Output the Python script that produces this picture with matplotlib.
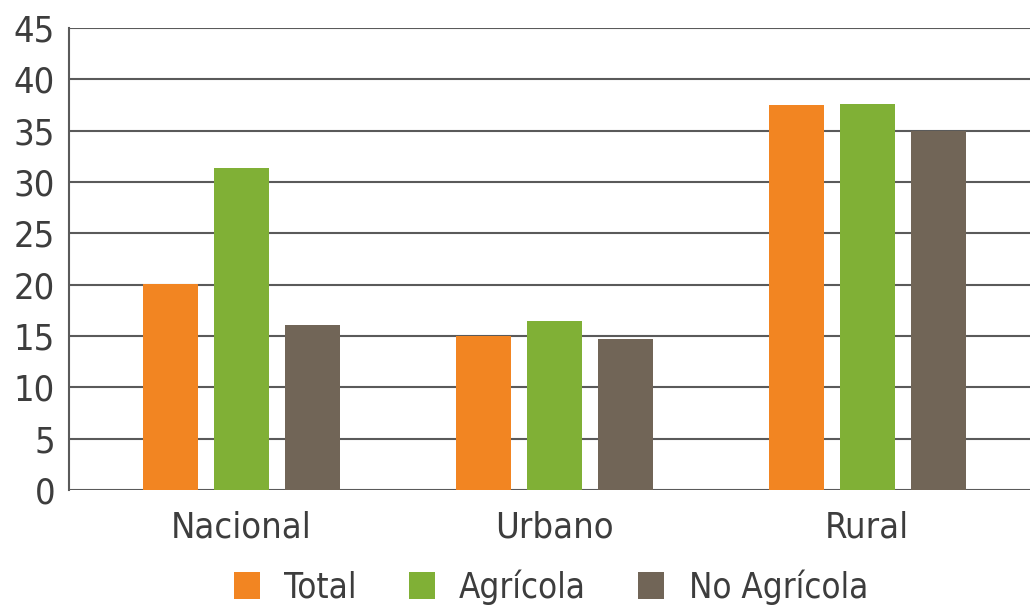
import matplotlib
matplotlib.use("Agg")
import matplotlib.pyplot as plt
from matplotlib import font_manager as fm
import numpy as np

categories = ["Nacional", "Urbano", "Rural"]
series_names = ["Total", "Agrícola", "No Agrícola"]
total = [20.1, 15.0, 37.5]
agricola = [31.4, 16.5, 37.6]
no_agricola = [16.1, 14.7, 35.0]
yticks = [0, 5, 10, 15, 20, 25, 30, 35, 40, 45]

colors = ["#F28522", "#80B036", "#716557"]
text_color = "#3d3d3d"


def _wnum(w):
    if isinstance(w, (int, float)):
        return w
    return fm.weight_dict.get(str(w), 400)


# look for a condensed, regular-weight, upright font
cands = []
for f in fm.fontManager.ttflist:
    is_cond = ('Narrow' in f.name or 'Condensed' in f.name or
               str(f.stretch) in ('condensed', 'semi-condensed') or
               (isinstance(f.stretch, int) and f.stretch < 500))
    if is_cond and f.style == 'normal' and _wnum(f.weight) <= 400 and 'Mono' not in f.name and 'Serif' not in f.name:
        cands.append(f)
cands.sort(key=lambda f: abs(_wnum(f.weight) - 400))
if cands:
    fp = fm.FontProperties(fname=cands[0].fname)
else:
    fp = fm.FontProperties(family='DejaVu Sans')

fig = plt.figure(figsize=(10.30, 6.06), dpi=100)
ax = fig.add_axes([69/1030, 1 - 490/606, (1030-69)/1030, (490-28)/606])

x = np.arange(len(categories))
w = 0.176
off = 0.227
for i, (vals, c, name) in enumerate(zip([total, agricola, no_agricola], colors, series_names)):
    ax.bar(x + (i - 1) * off, vals, width=w, color=c, label=name, zorder=3)

ax.set_xlim(-0.55, 2.52)
ax.set_ylim(0, 45)
ax.set_yticks(yticks)
ax.yaxis.grid(True, color="#5a5a5a", linewidth=1.5, zorder=0)
ax.set_axisbelow(True)
for s in ["top", "right", "bottom"]:
    ax.spines[s].set_visible(False)
ax.spines["left"].set_color("#5a5a5a")
ax.spines["left"].set_linewidth(1.5)
ax.tick_params(axis="y", length=0, labelcolor=text_color, pad=10)
ax.tick_params(axis="x", length=0, labelcolor=text_color, pad=15)
ax.set_xticks(x)
ax.set_xticklabels(categories)
for lab in ax.get_xticklabels() + ax.get_yticklabels():
    lab.set_fontproperties(fp)
    lab.set_fontsize(26)

fp_leg = fp.copy()
fp_leg.set_size(25)
leg = fig.legend(loc="center", bbox_to_anchor=(551/1030, 1 - 587/606), ncol=3, frameon=False,
                 prop=fp_leg, handlelength=0.75, handleheight=0.8, handletextpad=0.7,
                 columnspacing=1.5, labelcolor=text_color)

fig.savefig("out.png", dpi=100)
